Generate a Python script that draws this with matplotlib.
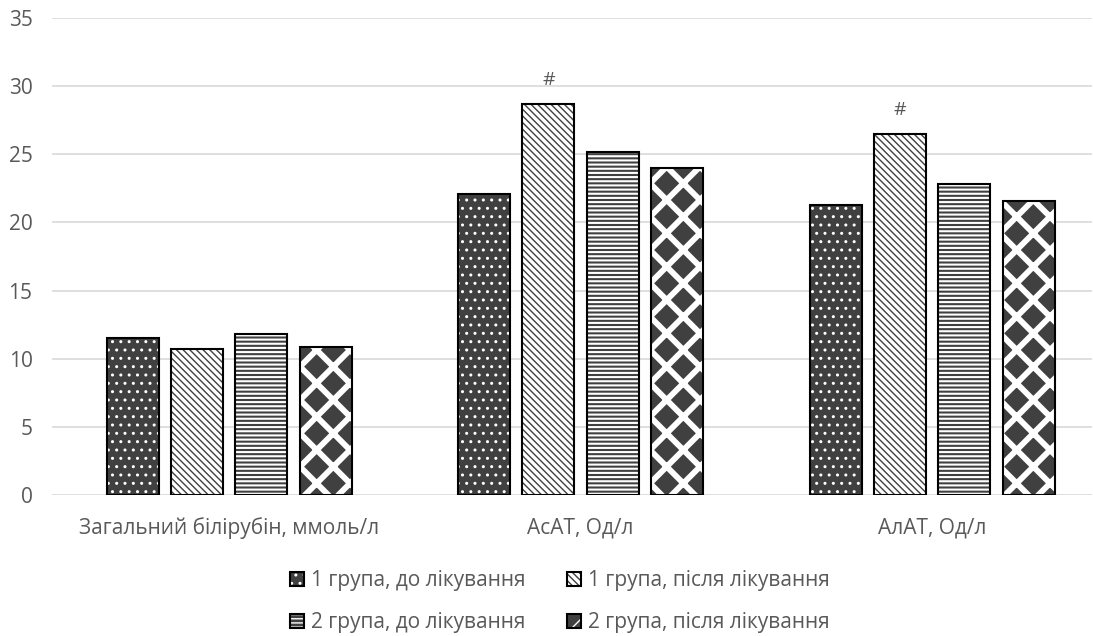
import matplotlib.pyplot as plt
import matplotlib.colors as mcolors
import numpy as np

plt.rcParams['font.family'] = ['Open Sans', 'DejaVu Sans']

categories = ['Загальний білірубін, ммоль/л', 'АсАТ, Од/л', 'АлАТ, Од/л']
labels = ['1 група, до лікування', '1 група, після лікування',
          '2 група, до лікування', '2 група, після лікування']
values = [
    [11.5, 22.1, 21.3],
    [10.7, 28.7, 26.5],
    [11.8, 25.2, 22.8],
    [10.85, 24.0, 21.6],
]
marks = ['', '#', '#']  # над другим стовпцем

faces = ['#404040', 'white', '#404040', '#404040']
hatches = ['..', '\\\\\\\\\\', '----', 'x']
hatch_colors = ['white', '#404040', 'white', 'white']
hatch_lw = [1.0, 1.0, 1.5, 4.2]

fig = plt.figure(figsize=(10.93, 6.36), dpi=100)
ax = fig.add_axes([52 / 1093, 1 - 495 / 636, 1040 / 1093, 477 / 636])

x = np.arange(len(categories))
step = 0.183
width = 0.148
handles = []
for i in range(4):
    pos = x + (i - 1.5) * step
    with plt.rc_context({'hatch.linewidth': hatch_lw[i], 'hatch.color': hatch_colors[i]}):
        bars = ax.bar(pos, values[i], width, color=faces[i], edgecolor='black',
                      linewidth=1.5, hatch=hatches[i], label=labels[i], zorder=3)
    for b in bars:
        b._hatch_color = mcolors.to_rgba(hatch_colors[i])
    handles.append(bars)
    if i == 1:
        for p, v, m in zip(pos, values[i], marks):
            if m:
                ax.text(p, v + 1.1, m, ha='center', va='bottom',
                        fontsize=14, color='#595959')

ax.set_ylim(0, 35)
ax.set_yticks(range(0, 36, 5))
ax.set_xlim(-0.5036, 2.455)
ax.set_xticks(x)
ax.set_xticklabels(categories)
ax.tick_params(length=0, labelsize=15, colors='#595959', pad=16)
ax.tick_params(axis='y', pad=14)
ax.grid(axis='y', color='#d9d9d9', linewidth=1.2, zorder=0)
for s in ax.spines.values():
    s.set_visible(False)

order = [0, 2, 1, 3]
fig.legend([handles[k] for k in order], [labels[k] for k in order],
           loc='lower center', bbox_to_anchor=(0.512, -0.025), ncol=2, frameon=False,
           fontsize=15, labelcolor='#595959', handlelength=0.7, handleheight=0.7,
           handletextpad=0.3, columnspacing=2.0, labelspacing=1.0)

fig.savefig('out.png', dpi=100)
